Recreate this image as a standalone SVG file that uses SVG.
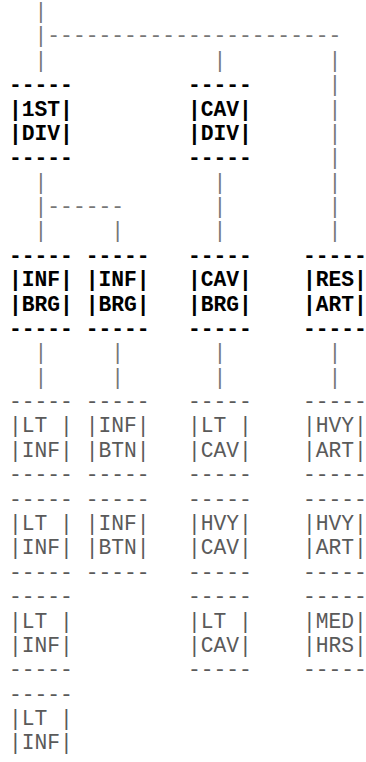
<svg xmlns="http://www.w3.org/2000/svg" width="366" height="762" viewBox="0 0 366 762">
<style>
text{font-family:"Liberation Mono","Courier New",monospace;font-size:21.3px;white-space:pre}
.b{font-weight:bold;fill:#000}
.n{fill:#5a5a5a}
.c{fill:#777}
</style>
<rect width="366" height="762" fill="#fff"/>
<g id="connectors" class="c">
<text x="34.56" y="18">|</text>
<text x="34.56" y="42.38">|-----------------------</text>
<text x="34.56" y="66.76">|</text><text x="213.48" y="66.76">|</text><text x="328.5" y="66.76">|</text>
<text x="328.5" y="91.14">|</text>
<text x="328.5" y="115.52">|</text>
<text x="328.5" y="139.9">|</text>
<text x="328.5" y="164.28">|</text>
<text x="34.56" y="188.66">|</text><text x="213.48" y="188.66">|</text><text x="328.5" y="188.66">|</text>
<text x="34.56" y="213.04">|------</text><text x="213.48" y="213.04">|</text><text x="328.5" y="213.04">|</text>
<text x="34.56" y="237.42">|</text><text x="111.24" y="237.42">|</text><text x="213.48" y="237.42">|</text><text x="328.5" y="237.42">|</text>
<text x="34.56" y="359.32">|</text><text x="111.24" y="359.32">|</text><text x="213.48" y="359.32">|</text><text x="328.5" y="359.32">|</text>
<text x="34.56" y="383.7">|</text><text x="111.24" y="383.7">|</text><text x="213.48" y="383.7">|</text><text x="328.5" y="383.7">|</text>
</g>
<g id="n-1st-div" class="b"><text><tspan x="9" y="91.14">-----</tspan><tspan x="9" y="115.52">|1ST|</tspan><tspan x="9" y="139.9">|DIV|</tspan><tspan x="9" y="164.28">-----</tspan></text></g>
<g id="n-cav-div" class="b"><text><tspan x="187.92" y="91.14">-----</tspan><tspan x="187.92" y="115.52">|CAV|</tspan><tspan x="187.92" y="139.9">|DIV|</tspan><tspan x="187.92" y="164.28">-----</tspan></text></g>
<g id="n-inf-brg-1" class="b"><text><tspan x="9" y="261.8">-----</tspan><tspan x="9" y="286.18">|INF|</tspan><tspan x="9" y="310.56">|BRG|</tspan><tspan x="9" y="334.94">-----</tspan></text></g>
<g id="n-inf-brg-2" class="b"><text><tspan x="85.68" y="261.8">-----</tspan><tspan x="85.68" y="286.18">|INF|</tspan><tspan x="85.68" y="310.56">|BRG|</tspan><tspan x="85.68" y="334.94">-----</tspan></text></g>
<g id="n-cav-brg" class="b"><text><tspan x="187.92" y="261.8">-----</tspan><tspan x="187.92" y="286.18">|CAV|</tspan><tspan x="187.92" y="310.56">|BRG|</tspan><tspan x="187.92" y="334.94">-----</tspan></text></g>
<g id="n-res-art" class="b"><text><tspan x="302.94" y="261.8">-----</tspan><tspan x="302.94" y="286.18">|RES|</tspan><tspan x="302.94" y="310.56">|ART|</tspan><tspan x="302.94" y="334.94">-----</tspan></text></g>
<g id="n-lt-inf-1" class="n"><text><tspan x="9" y="408.08">-----</tspan><tspan x="9" y="432.46">|LT |</tspan><tspan x="9" y="456.84">|INF|</tspan><tspan x="9" y="481.22">-----</tspan></text></g>
<g id="n-lt-inf-2" class="n"><text><tspan x="9" y="505.6">-----</tspan><tspan x="9" y="529.98">|LT |</tspan><tspan x="9" y="554.36">|INF|</tspan><tspan x="9" y="578.74">-----</tspan></text></g>
<g id="n-lt-inf-3" class="n"><text><tspan x="9" y="603.12">-----</tspan><tspan x="9" y="627.5">|LT |</tspan><tspan x="9" y="651.88">|INF|</tspan><tspan x="9" y="676.26">-----</tspan></text></g>
<g id="n-lt-inf-4" class="n"><text><tspan x="9" y="700.64">-----</tspan><tspan x="9" y="725.02">|LT |</tspan><tspan x="9" y="749.4">|INF|</tspan></text></g>
<g id="n-inf-btn-1" class="n"><text><tspan x="85.68" y="408.08">-----</tspan><tspan x="85.68" y="432.46">|INF|</tspan><tspan x="85.68" y="456.84">|BTN|</tspan><tspan x="85.68" y="481.22">-----</tspan></text></g>
<g id="n-inf-btn-2" class="n"><text><tspan x="85.68" y="505.6">-----</tspan><tspan x="85.68" y="529.98">|INF|</tspan><tspan x="85.68" y="554.36">|BTN|</tspan><tspan x="85.68" y="578.74">-----</tspan></text></g>
<g id="n-lt-cav-1" class="n"><text><tspan x="187.92" y="408.08">-----</tspan><tspan x="187.92" y="432.46">|LT |</tspan><tspan x="187.92" y="456.84">|CAV|</tspan><tspan x="187.92" y="481.22">-----</tspan></text></g>
<g id="n-hvy-cav" class="n"><text><tspan x="187.92" y="505.6">-----</tspan><tspan x="187.92" y="529.98">|HVY|</tspan><tspan x="187.92" y="554.36">|CAV|</tspan><tspan x="187.92" y="578.74">-----</tspan></text></g>
<g id="n-lt-cav-2" class="n"><text><tspan x="187.92" y="603.12">-----</tspan><tspan x="187.92" y="627.5">|LT |</tspan><tspan x="187.92" y="651.88">|CAV|</tspan><tspan x="187.92" y="676.26">-----</tspan></text></g>
<g id="n-hvy-art-1" class="n"><text><tspan x="302.94" y="408.08">-----</tspan><tspan x="302.94" y="432.46">|HVY|</tspan><tspan x="302.94" y="456.84">|ART|</tspan><tspan x="302.94" y="481.22">-----</tspan></text></g>
<g id="n-hvy-art-2" class="n"><text><tspan x="302.94" y="505.6">-----</tspan><tspan x="302.94" y="529.98">|HVY|</tspan><tspan x="302.94" y="554.36">|ART|</tspan><tspan x="302.94" y="578.74">-----</tspan></text></g>
<g id="n-med-hrs" class="n"><text><tspan x="302.94" y="603.12">-----</tspan><tspan x="302.94" y="627.5">|MED|</tspan><tspan x="302.94" y="651.88">|HRS|</tspan><tspan x="302.94" y="676.26">-----</tspan></text></g>
</svg>
